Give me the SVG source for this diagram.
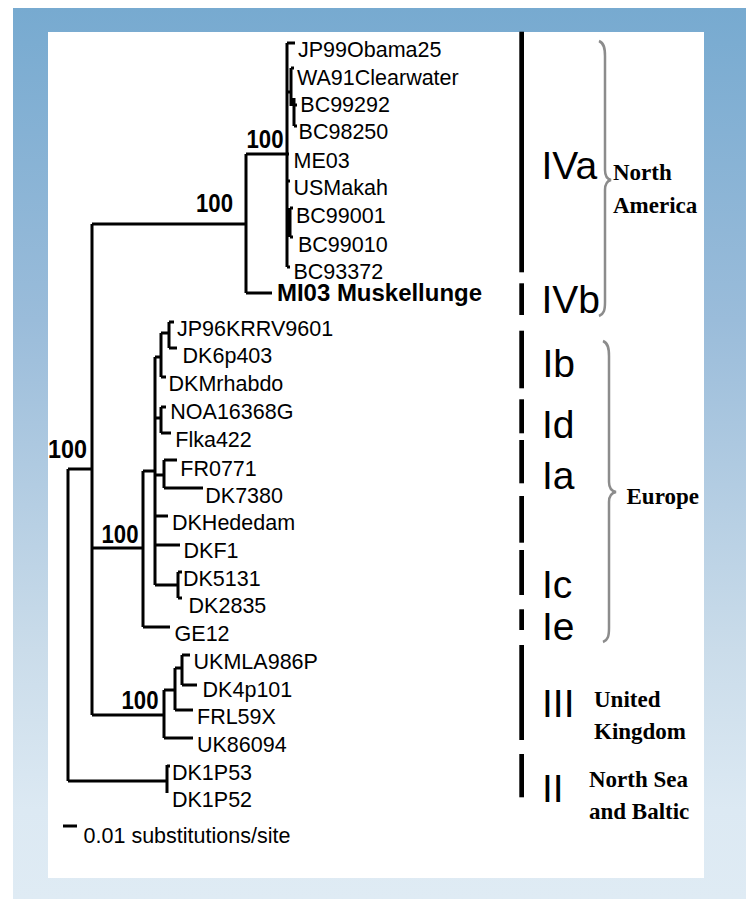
<svg xmlns="http://www.w3.org/2000/svg" width="746" height="899" viewBox="0 0 746 899">
<defs>
<linearGradient id="bg" x1="0" y1="0" x2="0" y2="1">
<stop offset="0" stop-color="#77aad0"/>
<stop offset="0.35" stop-color="#9abcda"/>
<stop offset="0.72" stop-color="#cadcea"/>
<stop offset="0.9" stop-color="#dce9f3"/>
<stop offset="1" stop-color="#dfebf4"/>
</linearGradient>
<style>
.br{stroke:#000;stroke-width:3;fill:none;stroke-linecap:butt;stroke-linejoin:miter}
.tip{font-family:"Liberation Sans",Arial,sans-serif;font-size:21.5px;fill:#000}
.tipb{font-family:"Liberation Sans",Arial,sans-serif;font-size:23px;font-weight:bold;fill:#000}
.bs{font-family:"Liberation Sans",Arial,sans-serif;font-size:25px;font-weight:bold;fill:#000}
.rom{font-family:"Liberation Sans",Arial,sans-serif;font-size:39px;fill:#000}
.reg{font-family:"Liberation Serif","Times New Roman",serif;font-size:23px;font-weight:bold;fill:#000}
.bar{fill:#000}
.brace{stroke:#8c8c8c;stroke-width:2.5;fill:none}
</style>
</defs>
<rect x="0" y="0" width="746" height="899" fill="#fff"/>
<rect x="13" y="8" width="733" height="891" fill="url(#bg)"/>
<rect x="48" y="32" width="656" height="846" fill="#fff"/>

<g id="connectors">
<path class="br" d="M68,469V781M68,469H92M68,781H167M167,765V793M167,766H170"/>
<path class="br" d="M92,224V715M92,224H246M92,548H143M92,715H164"/>
<path class="br" d="M246,154V293M246,154H289M246,293H272"/>
<path class="br" d="M287,43V267M287,43H295M287,92H291M291,68V106M291,68H294M291,104H294M294,98V126M294,105H297M294,126H297M287,181H290M287,220H290M290,208V237M290,208H293M290,237H293M287,267H290"/>
<path class="br" d="M143,471V627M143,471H155M143,627H170"/>
<path class="br" d="M155,357V585M155,357H161M161,333V377M161,333H169M169,322V348M169,322H174M169,348H177M161,377H166"/>
<path class="br" d="M155,418H161M161,407V433M161,407H166M161,433H171"/>
<path class="br" d="M155,475H164M164,460V488M164,460H177M164,488H203"/>
<path class="br" d="M155,516H168M155,545H180M155,585H178M178,572V598M178,572H182M178,598H182"/>
<path class="br" d="M164,690V738M164,690H175M175,668V710M175,668H182M182,655V685M182,655H190M182,685H197M175,710H193M164,738H193"/>
<path class="br" d="M63,826H77"/>
</g>

<g id="bootstrap">
<text class="bs" x="48" y="458" textLength="39" lengthAdjust="spacingAndGlyphs">100</text>
<text class="bs" x="101.5" y="543" textLength="37" lengthAdjust="spacingAndGlyphs">100</text>
<text class="bs" x="121.5" y="709" textLength="37" lengthAdjust="spacingAndGlyphs">100</text>
<text class="bs" x="196" y="211.7" textLength="37" lengthAdjust="spacingAndGlyphs">100</text>
<text class="bs" x="246.5" y="147.7" textLength="37" lengthAdjust="spacingAndGlyphs">100</text>
</g>

<g id="tips">
<g id="t-JP99Obama25"><text class="tip" x="298" y="57.3">JP99Obama25</text></g>
<g id="t-WA91Clearwater"><text class="tip" x="297" y="85">WA91Clearwater</text></g>
<g id="t-BC99292"><text class="tip" x="300.3" y="111.7">BC99292</text></g>
<g id="t-BC98250"><text class="tip" x="298.6" y="139">BC98250</text></g>
<g id="t-ME03"><text class="tip" x="293.5" y="167.7">ME03</text></g>
<g id="t-USMakah"><text class="tip" x="293.5" y="195">USMakah</text></g>
<g id="t-BC99001"><text class="tip" x="296" y="223.3">BC99001</text></g>
<g id="t-BC99010"><text class="tip" x="298" y="251.7">BC99010</text></g>
<g id="t-BC93372"><text class="tip" x="293.5" y="279">BC93372</text></g>
<g id="t-MI03"><text class="tipb" x="277" y="300.5" textLength="205" lengthAdjust="spacingAndGlyphs">MI03 Muskellunge</text></g>
<g id="t-JP96KRRV9601"><text class="tip" x="177" y="336">JP96KRRV9601</text></g>
<g id="t-DK6p403"><text class="tip" x="182.6" y="363">DK6p403</text></g>
<g id="t-DKMrhabdo"><text class="tip" x="168.6" y="390.7">DKMrhabdo</text></g>
<g id="t-NOA16368G"><text class="tip" x="170.3" y="419">NOA16368G</text></g>
<g id="t-Flka422"><text class="tip" x="175.3" y="446.7">Flka422</text></g>
<g id="t-FR0771"><text class="tip" x="180.3" y="475.7">FR0771</text></g>
<g id="t-DK7380"><text class="tip" x="205.3" y="503.3">DK7380</text></g>
<g id="t-DKHededam"><text class="tip" x="172" y="530">DKHededam</text></g>
<g id="t-DKF1"><text class="tip" x="183.6" y="558.3">DKF1</text></g>
<g id="t-DK5131"><text class="tip" x="183" y="586">DK5131</text></g>
<g id="t-DK2835"><text class="tip" x="188.6" y="612.7">DK2835</text></g>
<g id="t-GE12"><text class="tip" x="174.6" y="640.7">GE12</text></g>
<g id="t-UKMLA986P"><text class="tip" x="193.6" y="669">UKMLA986P</text></g>
<g id="t-DK4p101"><text class="tip" x="202.6" y="696.7">DK4p101</text></g>
<g id="t-FRL59X"><text class="tip" x="197" y="724.3">FRL59X</text></g>
<g id="t-UK86094"><text class="tip" x="197" y="752.3">UK86094</text></g>
<g id="t-DK1P53"><text class="tip" x="172" y="780">DK1P53</text></g>
<g id="t-DK1P52"><text class="tip" x="172" y="806.7">DK1P52</text></g>
<g id="scale"><text class="tip" x="83.6" y="843.3">0.01 substitutions/site</text></g>
</g>

<g id="bars">
<rect class="bar" x="519.3" y="31.7" width="4.7" height="240.6"/>
<rect class="bar" x="519.3" y="283.3" width="4.7" height="31.7"/>
<rect class="bar" x="519.3" y="330.7" width="4.7" height="57.6"/>
<rect class="bar" x="519.3" y="399.3" width="4.7" height="34"/>
<rect class="bar" x="519.3" y="440" width="4.7" height="43.3"/>
<rect class="bar" x="519.3" y="496" width="4.7" height="46.7"/>
<rect class="bar" x="519.3" y="550" width="4.7" height="45"/>
<rect class="bar" x="519.3" y="609.3" width="4.7" height="20.7"/>
<rect class="bar" x="519.3" y="645" width="4.7" height="95"/>
<rect class="bar" x="519.3" y="754" width="4.7" height="43.3"/>
</g>

<g id="genotypes">
<text class="rom" x="541.5" y="179.3">IVa</text>
<text class="rom" x="541.5" y="313.3">IVb</text>
<text class="rom" x="542.5" y="377.3">Ib</text>
<text class="rom" x="542" y="438.3">Id</text>
<text class="rom" x="542" y="489.3">Ia</text>
<text class="rom" x="542" y="597.7">Ic</text>
<text class="rom" x="542" y="640">Ie</text>
<text class="rom" x="542" y="716.7">III</text>
<text class="rom" x="542" y="801.7">II</text>
</g>

<g id="regions">
<path class="brace" d="M599,41C604,43 605,48 605,56V170C605,176 607,179 611,180C607,181 605,184 605,190V302C605,310 604,314 599,316"/>
<path class="brace" d="M603,341C608,343 609,348 609,356V482C609,488 611,491 616,492C611,493 609,496 609,502V628C609,636 608,640 603,642"/>
<text class="reg" x="613" y="180">North</text>
<text class="reg" x="613" y="212.7">America</text>
<text class="reg" x="626.5" y="504">Europe</text>
<text class="reg" x="594" y="707.3">United</text>
<text class="reg" x="594" y="739.3">Kingdom</text>
<text class="reg" x="589" y="786.7">North Sea</text>
<text class="reg" x="589" y="819.3">and Baltic</text>
</g>
</svg>
